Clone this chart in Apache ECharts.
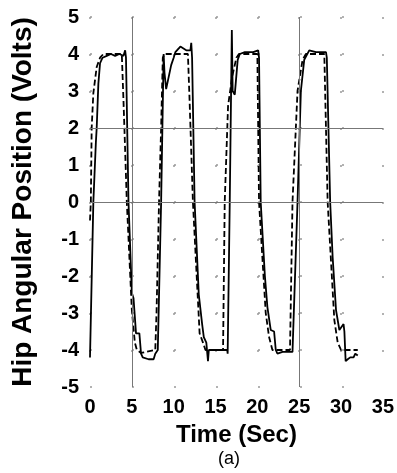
<!DOCTYPE html>
<html>
<head>
<meta charset="utf-8">
<script src="https://cdn.jsdelivr.net/npm/echarts@6/dist/echarts.min.js"></script>
<style>html,body{margin:0;padding:0;background:#fff}#c{width:397px;height:473px}</style>
</head>
<body>
<div id="c"></div>
<script>
// Actual hip position (solid) [time s, volts]
var actualData = [
  [0, -4.2], [0.4, 0], [0.7, 1.6], [0.8, 2.0], [1.0, 3.2], [1.2, 3.75], [1.5, 3.9], [2.0, 3.95], [2.5, 4.0], [3.0, 3.95], [3.5, 4.0], [4.0, 3.95], [4.2, 4.1], [4.3, 3.9],
  [4.6, 0], [5.0, -2.45], [5.2, -2.6], [5.5, -3.55], [5.9, -3.55], [6.1, -4.1], [6.3, -4.2], [7.0, -4.25], [7.6, -4.25], [7.8, -4.1], [8.1, -4.0], [8.3, -4.0],
  [8.5, 0], [8.8, 4.0], [8.9, 3.5], [9.1, 3.05], [9.3, 3.1], [9.7, 3.7], [10.0, 3.9], [10.2, 4.05], [10.8, 4.2], [11.5, 4.1], [12.0, 4.1], [12.1, 4.3], [12.2, 3.9],
  [12.5, 0], [13.0, -2.5], [13.4, -3.3], [13.6, -3.65], [13.9, -3.8], [14.1, -4.3], [14.2, -4.0], [15.0, -4.0], [16.0, -4.0], [16.4, -4.0], [16.45, -4.1],
  [16.7, 0], [16.95, 4.65], [17.05, 3.0], [17.3, 2.9], [17.65, 3.84], [17.9, 4.0], [18.5, 4.05], [19.5, 4.05], [20.1, 4.1], [20.2, 3.9],
  [20.4, 0], [20.9, -2.0], [21.2, -2.84], [21.6, -3.46], [22.0, -3.5], [22.2, -4.0], [22.4, -4.1], [23.0, -4.05], [24.2, -4.05], [24.4, -4.0],
  [24.8, 0], [25.2, 3.0], [25.6, 3.84], [26.2, 4.1], [27.0, 4.05], [28.2, 4.05], [28.3, 3.9],
  [28.7, 0], [29.0, -1.5], [29.4, -2.92], [29.8, -3.46], [30.0, -3.45], [30.3, -3.3], [30.4, -3.5], [30.55, -4.3], [30.8, -4.25], [31.1, -4.2], [31.5, -4.2], [31.7, -4.1], [32.0, -4.15]
];
// Reference trajectory (dashed) [time s, volts]
var referenceData = [
  [0, -0.5], [0.1, 0], [0.2, 2.0], [0.4, 2.94], [0.8, 3.65], [1.2, 3.9], [1.6, 4.0], [3.8, 4.0], [4.0, 2.75], [4.2, 1.4],
  [4.4, 0], [5.0, -2.92], [5.36, -3.8], [5.6, -4.0], [6.1, -4.08], [7.8, -4.0], [7.95, -3.0],
  [8.25, 0], [8.5, 2.0], [8.7, 3.9], [8.9, 4.0], [11.7, 4.0], [11.9, 2.75],
  [12.3, 0], [13.1, -3.55], [13.5, -3.8], [13.8, -4.0], [15.9, -4.0], [16.0, -2.0],
  [16.1, 0], [16.5, 2.6], [17.0, 3.4], [17.5, 3.9], [17.8, 4.0], [20.0, 4.0],
  [20.2, 0], [21.0, -3.0], [21.4, -3.65], [21.8, -4.0], [23.9, -4.0],
  [24.2, 0], [24.8, 3.0], [25.4, 3.84], [25.8, 4.0], [28.0, 4.0],
  [28.4, 0], [29.2, -3.19], [29.6, -3.8], [30.0, -4.0], [32.0, -4.0]
];
var refVerticalLines = [5, 25];
var refHorizontalLines = [0, 2];

var FONT = "'Liberation Sans', Arial, sans-serif";
var chart = echarts.init(document.getElementById('c'), null, {renderer: 'canvas'});
var markData = refVerticalLines.map(function (v) { return {xAxis: v}; })
  .concat(refHorizontalLines.map(function (v) { return {yAxis: v}; }));

chart.setOption({
  animation: false,
  backgroundColor: '#fff',
  grid: {left: 90, right: 13, top: 17, bottom: 86},
  xAxis: {
    type: 'value', min: 0, max: 35, interval: 5,
    name: 'Time (Sec)', nameLocation: 'middle', nameGap: 36,
    nameTextStyle: {fontFamily: FONT, fontWeight: 'bold', fontSize: 24, color: '#000'},
    axisLine: {show: false}, axisTick: {show: false},
    axisLabel: {fontFamily: FONT, fontWeight: 'bold', fontSize: 20, color: '#000', margin: 10},
    splitLine: {show: true, lineStyle: {color: '#999', width: 1.5, type: [2, 35]}}
  },
  yAxis: {
    type: 'value', min: -5, max: 5, interval: 1,
    name: 'Hip Angular Position (Volts)', nameLocation: 'middle', nameGap: 53,
    nameTextStyle: {fontFamily: FONT, fontWeight: 'bold', fontSize: 28, color: '#000'},
    axisLine: {show: false}, axisTick: {show: false},
    axisLabel: {fontFamily: FONT, fontWeight: 'bold', fontSize: 20, color: '#000', margin: 11},
    splitLine: {show: true, lineStyle: {color: '#999', width: 1.5, type: [2, 40]}}
  },
  graphic: [{
    type: 'text', left: 218, top: 450,
    style: {text: '(a)', fontFamily: FONT, fontSize: 18, fill: '#000'}
  }],
  series: [{
    type: 'line', data: referenceData, showSymbol: false, symbol: 'none',
    lineStyle: {color: '#000', width: 1.8, type: [6, 3]}, z: 3,
    markLine: {
      silent: true, symbol: 'none', label: {show: false},
      lineStyle: {color: '#777', width: 1, type: 'solid'},
      data: markData
    }
  }, {
    type: 'line', data: actualData, showSymbol: false, symbol: 'none',
    lineStyle: {color: '#000', width: 1.8}, z: 4
  }]
});
</script>
</body>
</html>
